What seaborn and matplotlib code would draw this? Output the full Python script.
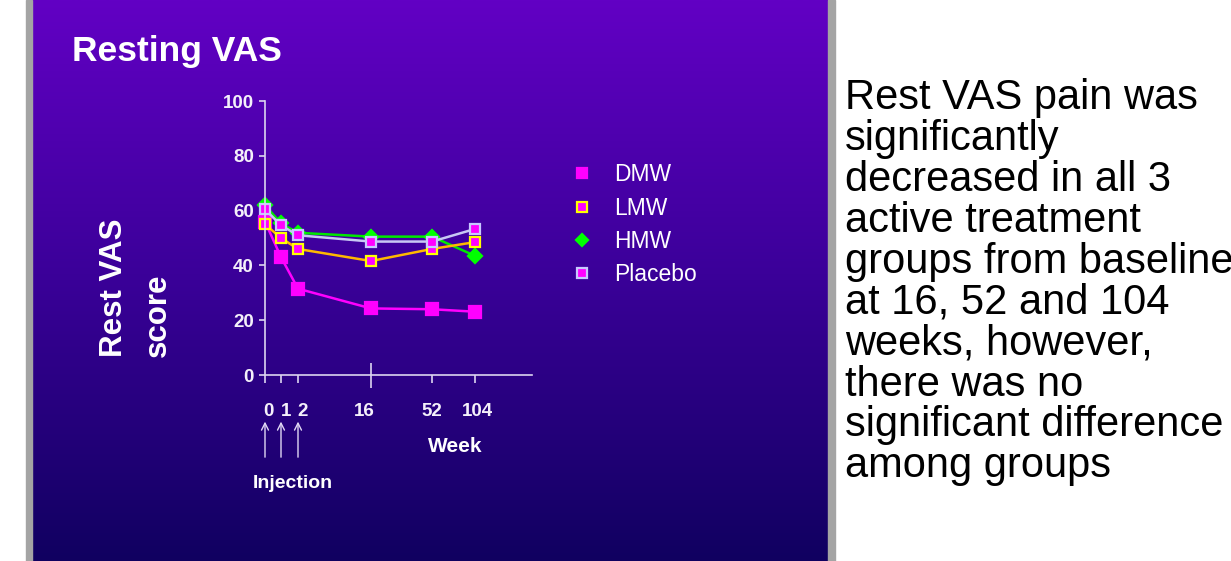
#!/usr/bin/env python
# -*- coding: utf-8 -*-

"""
Resting VAS slide
"""

import matplotlib.pyplot as plt
import matplotlib.transforms as mtrans
import numpy as np
import pandas as pd
import seaborn as sns

from matplotlib.colors import LinearSegmentedColormap
from matplotlib.lines import Line2D
from matplotlib.patches import Rectangle

# data
weeks = [0, 1, 2, 16, 52, 104]
dmw = [56, 43, 31.5, 24.3, 24, 23.1]
lmw = [55, 50, 46, 41.6, 46, 48.5]
hmw = [62, 55.3, 51.9, 50.5, 50.5, 43.5]
placebo = [60.5, 54.6, 51, 48.7, 48.7, 53.3]
groups = ['DMW', 'HMW', 'LMW', 'Placebo']
legend_order = ['DMW', 'LMW', 'HMW', 'Placebo']
injection_weeks = [0, 1, 2]

note = ('Rest VAS pain was\nsignificantly\ndecreased in all 3\n'
        'active treatment\ngroups from baseline\nat 16, 52 and 104\n'
        'weeks, however,\nthere was no\nsignificant difference\n'
        'among groups')

# uneven week axis of the slide (week -> pixel offset)
axis_weeks = [0, 1, 2, 16, 52, 104, 130]
axis_px = [0, 16, 33, 106, 167, 210, 267]
# small horizontal nudges of the week labels, in pixels
label_nudge = [3, 5, 5, -7, 0, 2]

styles = {
  'DMW': dict(color='#FF00FF', marker='s', mfc='#FF00FF', mec='#FF00FF', ms=8),
  'LMW': dict(color='#FFB800', marker='s', mfc='#FF00FF', mec='#FFFF00', ms=7.5),
  'HMW': dict(color='#00E800', marker='D', mfc='#00FF00', mec='#00FF00', ms=7),
  'Placebo': dict(color='#C8C8F4', marker='s', mfc='#FF00FF', mec='#C8C8FF', ms=7.5),
}

W, H = 1231, 561


def fx(x):
  return x / W


def fy(y):
  return 1 - y / H


def fwd(x):
  return np.interp(x, axis_weeks, axis_px)


def inv(p):
  return np.interp(p, axis_px, axis_weeks)


def main():
  sns.set_style("ticks")
  plt.rcParams['font.family'] = ['Liberation Sans', 'DejaVu Sans']

  df = pd.DataFrame({
      'week': weeks * 4,
      'score': dmw + hmw + lmw + placebo,
      'group': sum([[g] * len(weeks) for g in groups], []),
  })

  fig = plt.figure(figsize=(W / 100, H / 100), dpi=100)
  fig.patch.set_facecolor('white')

  # slide background
  bg = fig.add_axes([0, 0, 1, 1])
  cmap = LinearSegmentedColormap.from_list('slide', ['#6200C4', '#3A0098', '#100060'])
  grad = np.linspace(0, 1, 256).reshape(-1, 1)
  bg.imshow(grad, cmap=cmap, aspect='auto', extent=(32, 828, H, 0))
  bg.add_patch(Rectangle((26, 0), 6, H, color='#A4A4A4'))
  bg.add_patch(Rectangle((828, 0), 7, H, color='#A4A4A4'))
  bg.set_xlim(0, W)
  bg.set_ylim(H, 0)
  bg.axis('off')

  ax = fig.add_axes([fx(265), fy(375), fx(532 - 265), (375 - 101) / H])
  ax.set_facecolor('none')
  ax.set_xscale('function', functions=(fwd, inv))

  for g in groups:
    st = styles[g]
    sns.lineplot(data=df[df.group == g], x='week', y='score', ax=ax,
                 color=st['color'], marker=st['marker'],
                 markerfacecolor=st['mfc'], markeredgecolor=st['mec'],
                 markersize=st['ms'], markeredgewidth=1.6, linewidth=1.8,
                 clip_on=False, legend=False)

  ax.set_xlim(0, 130)
  ax.set_ylim(0, 100)
  for s in ['top', 'right']:
    ax.spines[s].set_visible(False)
  axis_col = '#DCD4F0'
  ax.spines['left'].set_color(axis_col)
  ax.spines['bottom'].set_color(axis_col)
  ax.spines['left'].set_linewidth(1.2)
  ax.spines['bottom'].set_linewidth(1.2)
  ax.set_yticks([0, 20, 40, 60, 80, 100])
  ax.set_xticks(weeks)
  ax.set_xticklabels([str(w) for w in weeks])
  ax.tick_params(axis='y', colors=axis_col, labelcolor='#F4F0FA', length=4,
                 width=1.2, pad=4, labelsize=13.5)
  ax.tick_params(axis='x', colors=axis_col, labelcolor='#F4F0FA', length=6,
                 width=1.2, pad=14, labelsize=13.5)
  for lab in ax.get_xticklabels() + ax.get_yticklabels():
    lab.set_fontweight('bold')
  for lab, dx in zip(ax.get_xticklabels(), label_nudge):
    lab.set_transform(lab.get_transform() +
                      mtrans.ScaledTranslation(dx / 100, 0, fig.dpi_scale_trans))
  big = ax.xaxis.get_major_ticks()[weeks.index(16)]
  big.tick1line.set_marker('|')
  big.tick1line.set_markersize(18)
  ax.set_xlabel('')
  ax.set_ylabel('')

  # injection arrows
  for w in injection_weeks:
    ax.annotate('', xy=(w, -16), xytext=(w, -31), annotation_clip=False,
                arrowprops=dict(arrowstyle='->,head_length=0.5,head_width=0.25',
                                color='#E0D8F4', lw=1.0))

  txt = dict(color='white', fontweight='bold')
  fig.text(fx(72), fy(52), 'Resting VAS', fontsize=25.5, ha='left',
           va='center', **txt)
  fig.text(fx(114), fy(357), 'Rest VAS', fontsize=22.5, rotation=90,
           ha='center', va='bottom', **txt)
  fig.text(fx(158), fy(357), 'score', fontsize=22.5, rotation=90,
           ha='center', va='bottom', **txt)
  fig.text(fx(455), fy(446), 'Week', fontsize=15, ha='center',
           va='center', **txt)
  fig.text(fx(293), fy(483), 'Injection', fontsize=14, ha='center',
           va='center', **txt)

  handles = []
  for g in legend_order:
    st = styles[g]
    handles.append(Line2D([], [], linestyle='none', marker=st['marker'],
                          markerfacecolor=st['mfc'], markeredgecolor=st['mec'],
                          markersize=st['ms'] - 0.5, markeredgewidth=1.6))
  fig.legend(handles, legend_order, loc='upper left',
             bbox_to_anchor=(fx(559), fy(152)), frameon=False,
             labelcolor='white', fontsize=16.5, handlelength=1.0,
             handletextpad=0.9, labelspacing=0.45, borderpad=0)

  fig.text(fx(845), fy(78), note, fontsize=30, ha='left', va='top',
           color='black', linespacing=1.03)

  plt.savefig('out.png', dpi=100)
  plt.close()


if __name__ == '__main__':
  main()
